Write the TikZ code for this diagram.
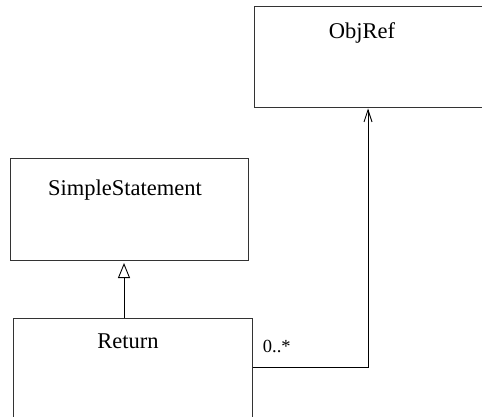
\documentclass[tikz,border=0pt]{standalone}
\usepackage{fontspec}
\setmainfont{Liberation Serif}
\usetikzlibrary{arrows.meta}

\begin{document}
\begin{tikzpicture}[
    x=1pt, y=-1pt,
    umlclass/.style={
        draw=black!80,
        line width=1pt,
        inner sep=0pt
    },
    classname/.style={
        anchor=base,
        inner sep=0pt,
        font=\rmfamily\fontsize{22.5}{27}\selectfont
    },
    mult/.style={
        inner sep=0pt,
        font=\rmfamily\fontsize{18.5}{22}\selectfont
    },
    inherit/.style={-{Triangle[open, length=15pt, width=12pt]}, line width=0.9pt, shorten >=2pt},
    assoc/.style={-{Straight Barb[length=12pt, width=8pt]}, line width=0.9pt}
]
\useasboundingbox (0,0) rectangle (482,417);
\clip (0,0) rectangle (482,417);

\node (objref) [umlclass, minimum width=236pt, minimum height=101pt] at (372,57.5) {};
\node [classname] at (362,39) {ObjRef};

\node (simple) [umlclass, minimum width=238pt, minimum height=101.5pt] at (129,209.75) {};
\node [classname] at (125,196) {SimpleStatement};

\node (ret) [umlclass, minimum width=239pt, minimum height=112pt] at (132.5,374) {};
\node [classname] at (128,348) {Return};

\coordinate (bend) at (368,367);

% generalisation
\draw[inherit] ([xshift=-8.5pt]ret.north) -- ([xshift=-8.5pt]ret.north |- simple.south);

% association
\draw[assoc] (ret.east |- bend)
    node[mult, anchor=base west, xshift=10pt, yshift=15pt] {0..*}
    -- (bend) -- (bend |- objref.south);

\end{tikzpicture}
\end{document}
